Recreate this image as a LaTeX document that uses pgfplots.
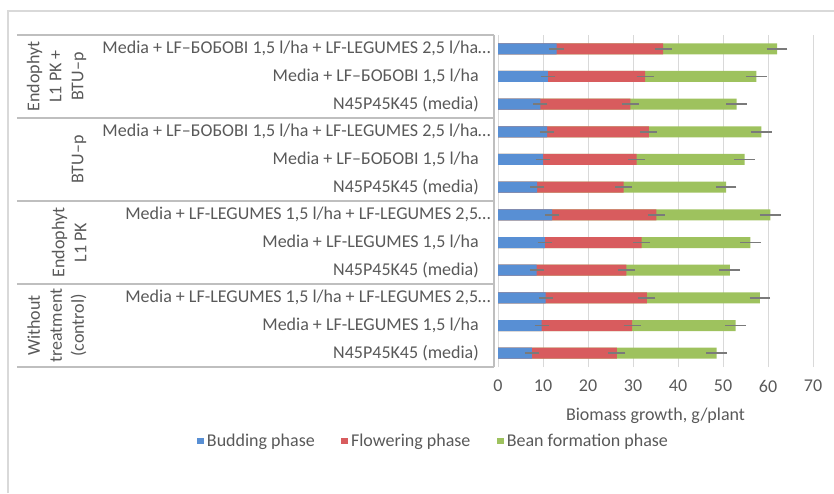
\documentclass[border=0pt]{standalone}
\usepackage{pgfplots}
\pgfplotsset{compat=1.18}
\usepackage{fontspec}
\setmainfont{Carlito}
\definecolor{txt}{HTML}{595959}
\definecolor{cblue}{RGB}{88,143,212}
\definecolor{cred}{RGB}{216,92,94}
\definecolor{cgreen}{RGB}{158,194,94}
\definecolor{gridc}{HTML}{D9D9D9}
\definecolor{sepc}{HTML}{BFBFBF}
\definecolor{errc}{HTML}{7A7A7A}
\newcommand{\lblfont}{\fontsize{13.5}{16.5}\selectfont}
\begin{document}
\begin{tikzpicture}[x=1pt,y=1pt]
\path[use as bounding box] (0,0) rectangle (625.5,369.75);
\draw[gridc, line width=1pt] (6,0) -- (6,361.5) -- (626,361.5);
\begin{axis}[
  at={(373.5pt,94.5pt)}, anchor=south west,
  scale only axis, width=236.25pt, height=249pt,
  xbar, bar width=8.25pt, bar shift=0pt,
  xmin=0, xmax=70, ymin=-0.5, ymax=11.5,
  xtick={0,10,...,70}, ytick={0,...,11},
  yticklabels={
    {N45P45K45 (media)},
    {Media + LF-LEGUMES 1,5 l/ha},
    {Media + LF-LEGUMES 1,5 l/ha + LF-LEGUMES 2,5…\kern-9pt},
    {N45P45K45 (media)},
    {Media + LF-LEGUMES 1,5 l/ha},
    {Media + LF-LEGUMES 1,5 l/ha + LF-LEGUMES 2,5…\kern-9pt},
    {N45P45K45 (media)},
    {Media + LF–БОБОВІ 1,5 l/ha},
    {Media + LF–БОБОВІ 1,5 l/ha + LF-LEGUMES 2,5 l/ha…\kern-9pt},
    {N45P45K45 (media)},
    {Media + LF–БОБОВІ 1,5 l/ha},
    {Media + LF–БОБОВІ 1,5 l/ha + LF-LEGUMES 2,5 l/ha…\kern-9pt}},
  axis line style={draw=none}, major tick length=0pt,
  xmajorgrids, grid style={gridc, line width=0.75pt},
  /pgf/number format/assume math mode=true,
  every tick label/.append style={font=\lblfont, text=txt},
  yticklabel style={anchor=east, inner sep=0pt, xshift=-14.25pt},
  xticklabel style={anchor=north, inner sep=0pt, yshift=-9.5pt},
  xlabel={Biomass growth, g/plant},
  xlabel style={at={(0.5,0)}, anchor=center, yshift=-36.75pt, font=\lblfont, text=txt},
  clip=false,
  legend style={at={(0,0)}, anchor=center, xshift=-48pt, yshift=-55.5pt,
    draw=none, fill=none, font=\lblfont, text=txt,
    /tikz/every even column/.append style={column sep=18pt}},
  legend columns=3,
  legend image code/.code={\fill[#1] (0pt,-2.6pt) rectangle (5.2pt,2.6pt);},
  error bars/error bar style={errc, line width=1.1pt},
  error bars/error mark options={errc, line width=1.1pt, mark size=4pt},
]
\addlegendimage{fill=cblue, draw=none}
\addlegendimage{fill=cred, draw=none}
\addlegendimage{fill=cgreen, draw=none}
% bean formation phase (cumulative end of bar)
\addplot[fill=cgreen, draw=none, forget plot, error bars/.cd, x dir=both, x explicit] coordinates {
 (48.6,0) +- (1.1,0)  (52.8,1) +- (1.1,0)  (58.2,2) +- (1.1,0)
 (51.5,3) +- (1.1,0)  (56.1,4) +- (1.1,0)  (60.5,5) +- (1.1,0)
 (50.7,6) +- (1.1,0)  (54.8,7) +- (1.1,0)  (58.5,8) +- (1.1,0)
 (53.0,9) +- (1.1,0)  (57.4,10) +- (1.1,0) (62.0,11) +- (1.1,0)};
% flowering phase (cumulative end)
\addplot[fill=cred, draw=none, forget plot, error bars/.cd, x dir=both, x explicit] coordinates {
 (26.4,0) +- (0.7,0)  (29.8,1) +- (0.7,0)  (33.1,2) +- (0.7,0)
 (28.5,3) +- (0.7,0)  (31.9,4) +- (0.7,0)  (35.2,5) +- (0.7,0)
 (27.9,6) +- (0.7,0)  (30.8,7) +- (0.7,0)  (33.5,8) +- (0.7,0)
 (29.4,9) +- (0.7,0)  (32.7,10) +- (0.7,0) (36.7,11) +- (0.7,0)};
% budding phase
\addplot[fill=cblue, draw=none, forget plot, error bars/.cd, x dir=both, x explicit] coordinates {
 (7.5,0) +- (0.4,0)  (9.7,1) +- (0.4,0)  (10.6,2) +- (0.4,0)
 (8.6,3) +- (0.4,0)  (10.4,4) +- (0.4,0) (12.0,5) +- (0.4,0)
 (8.7,6) +- (0.4,0)  (10.0,7) +- (0.4,0) (10.9,8) +- (0.4,0)
 (9.4,9) +- (0.4,0)  (11.1,10) +- (0.4,0) (13.0,11) +- (0.4,0)};
\legend{Budding phase, Flowering phase, Bean formation phase}
% group separators
\draw[sepc, line width=1.5pt] ([xshift=-360.75pt]axis cs:0,11.5) -- ([xshift=-3pt]axis cs:0,11.5);
\draw[sepc, line width=1.5pt] ([xshift=-360.75pt]axis cs:0,8.5) -- ([xshift=-3pt]axis cs:0,8.5);
\draw[sepc, line width=1.5pt] ([xshift=-360.75pt]axis cs:0,5.5) -- ([xshift=-3pt]axis cs:0,5.5);
\draw[sepc, line width=1.5pt] ([xshift=-360.75pt]axis cs:0,2.5) -- ([xshift=-3pt]axis cs:0,2.5);
\draw[sepc, line width=1.5pt] ([xshift=-360.75pt]axis cs:0,-0.5) -- ([xshift=-3pt]axis cs:0,-0.5);
\draw[sepc, line width=1.5pt] ([xshift=-3pt]axis cs:0,11.5) -- ([xshift=-3pt]axis cs:0,-0.5);
\node[rotate=90, anchor=south, align=center, inner sep=0pt, font=\lblfont, text=txt]
  at ([xshift=-308.5pt]axis cs:0,10) {Endophyt\\L1 PK +\\BTU–p};
\node[rotate=90, anchor=south, align=center, inner sep=0pt, font=\lblfont, text=txt]
  at ([xshift=-308.5pt]axis cs:0,7) {BTU–p};
\node[rotate=90, anchor=south, align=center, inner sep=0pt, font=\lblfont, text=txt]
  at ([xshift=-308.5pt]axis cs:0,4) {Endophyt\\L1 PK};
\node[rotate=90, anchor=south, align=center, inner sep=0pt, font=\lblfont, text=txt]
  at ([xshift=-308.5pt]axis cs:0,1) {Without\\treatment\\(control)};
\end{axis}
\end{tikzpicture}
\end{document}
